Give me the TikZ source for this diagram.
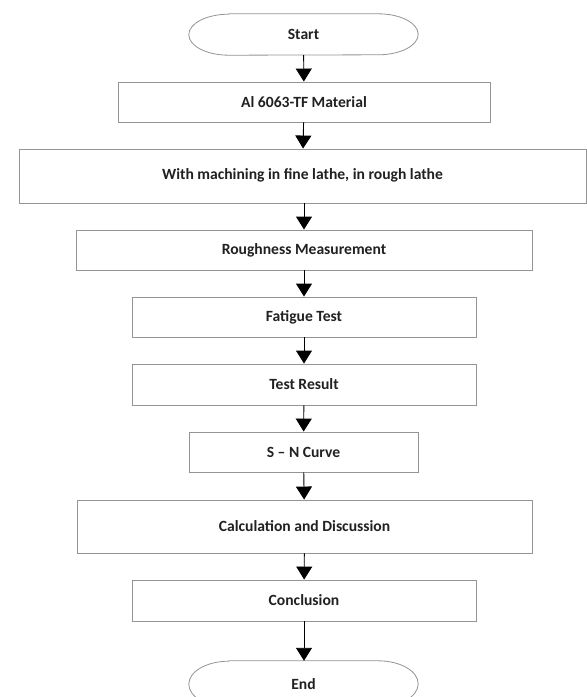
\documentclass[tikz,border=0pt]{standalone}
\usepackage{fontspec}
\setmainfont{Carlito}
\usepackage{xcolor}
\usetikzlibrary{arrows.meta}

\definecolor{boxgray}{gray}{0.58}
\definecolor{txt}{gray}{0.13}

\tikzset{
  stepbox/.style={draw=boxgray, line width=0.9pt, fill=white, inner sep=0pt,
    font=\fontsize{15.6}{17}\selectfont\bfseries, text=txt},
  terminal/.style={inner sep=0pt, minimum width=229pt, minimum height=41pt,
    font=\fontsize{15.6}{17}\selectfont\bfseries, text=txt},
  flow/.style={line width=0.9pt, -{Triangle[width=16pt,length=13pt]}}
}

\begin{document}
\begin{tikzpicture}[x=1pt,y=-1pt]
		\useasboundingbox[fill=white] (0,0) rectangle (587,697);

		% start and end
		\node[terminal] (start) at (303.5,34.5) {Start};
		\node[terminal, minimum height=46pt] (end) at (303.5,684) {End};
		\foreach \t/\r in {start/20.5,end/23}
			\draw[boxgray, line width=0.8pt] ([xshift=40pt]\t.north west) -- ([xshift=-40pt]\t.north east)
				arc[start angle=90, end angle=-90, x radius=40pt, y radius=\r pt]
				-- ([xshift=40pt]\t.south west)
				arc[start angle=270, end angle=90, x radius=40pt, y radius=\r pt] -- cycle;

		% steps
		\node[stepbox, minimum width=372pt, minimum height=40pt] (mat) at (304,102) {Al 6063-TF Material};
		\node[stepbox, minimum width=567pt, minimum height=54pt] (mach) at (302.5,176) {\raisebox{4pt}{With machining in fine lathe, in rough lathe}};
		\node[stepbox, minimum width=456pt, minimum height=40pt] (rough) at (304,250) {Roughness Measurement};
		\node[stepbox, minimum width=344pt, minimum height=40pt] (fat) at (304,317) {Fatigue Test};
		\node[stepbox, minimum width=344pt, minimum height=41pt] (res) at (304,384.5) {Test Result};
		\node[stepbox, minimum width=229pt, minimum height=40pt] (sn) at (303.5,452) {S -- N Curve};
		\node[stepbox, minimum width=455pt, minimum height=53pt] (calc) at (304.5,526.5) {Calculation and Discussion};
		\node[stepbox, minimum width=344pt, minimum height=41pt] (conc) at (304,600.5) {Conclusion};

		% arrows
		\draw[flow] (start) -- (mat);
		\draw[flow] (mat) -- (mach);
		\draw[flow] (mach.south -| mat) -- (rough.north -| mat);
		\draw[flow] (rough) -- (fat);
		\draw[flow] (fat) -- (res);
		\draw[flow] (res) -- (sn);
		\draw[flow] (sn) -- (calc);
		\draw[flow] (calc) -- (conc);
		\draw[flow] (conc) -- (end.north -| conc);
	\end{tikzpicture}
\end{document}
